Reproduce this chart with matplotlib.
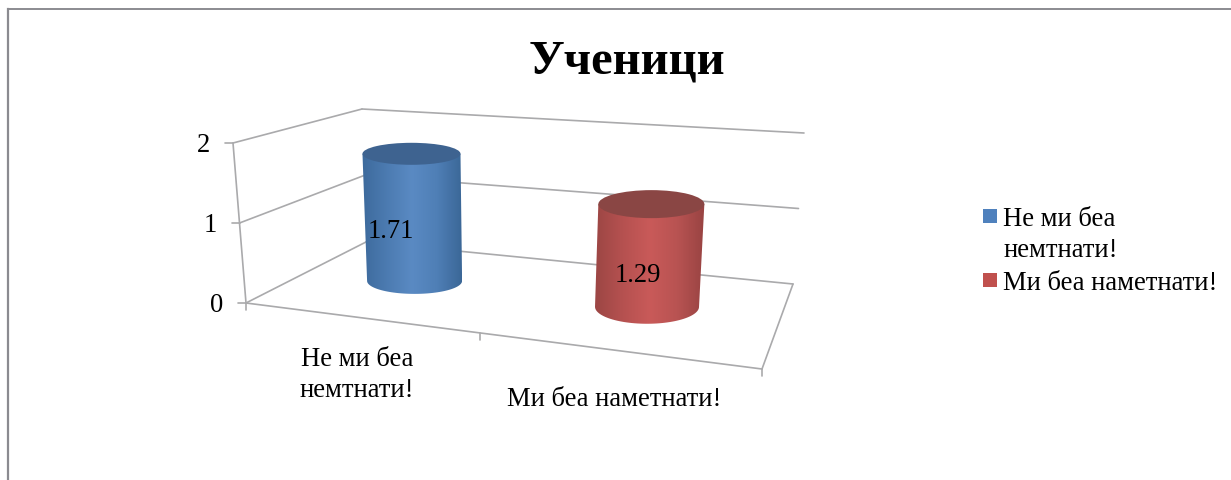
import numpy as np
import matplotlib
matplotlib.use("Agg")
import matplotlib.pyplot as plt
from matplotlib.patches import Ellipse, Polygon, Rectangle
from matplotlib.colors import LinearSegmentedColormap

titulo = "Ученици"
categorias = ["Не ми беа\nнемтнати!", "Ми беа наметнати!"]
valores = [1.71, 1.29]
rotulos_valor = ["1.71", "1.29"]
ticks_y = [0, 1, 2]

plt.rcParams["font.family"] = ["Liberation Serif", "DejaVu Serif"]

COR_GRADE = "#aaaaac"
CORES_LEGENDA = ["#4f81bd", "#c0504d"]
CORES_TOPO = ["#3e6390", "#8a4644"]
GRADIENTES = [["#3d6a9c", "#4c7bb1", "#5a8ac3", "#4f7fb6", "#3b6797"],
              ["#9c4644", "#b55150", "#c95a59", "#b85352", "#984342"]]
# raios dos cilindros em pixels: (topo x, topo y, base x, base y)
RAIOS = [(49, 11, 47.5, 13), (53, 14, 52, 17)]
PROF_BASE = 0.5
PROF_TOPO = 0.47
FONTE = 19.2


def homografia(destino):
    origem = [(0, 0), (2, 0), (2, 1), (0, 1)]
    A, b = [], []
    for (u, v), (x, y) in zip(origem, destino):
        A.append([u, v, 1, 0, 0, 0, -u * x, -v * x])
        A.append([0, 0, 0, u, v, 1, -u * y, -v * y])
        b += [x, y]
    h = np.linalg.solve(np.array(A, float), np.array(b, float))
    return np.append(h, 1).reshape(3, 3)


# cantos da caixa 3D na imagem (frente esq, frente dir, fundo dir, fundo esq)
H_BASE = homografia([(246, 303), (762, 369), (793, 284), (366, 242)])
H_TOPO = homografia([(233, 143), (770, 178), (804, 133), (362, 109)])


def proj(u, d, z):
    p = np.array([u, d, 1.0])
    a = H_BASE @ p
    b = H_TOPO @ p
    a = a[:2] / a[2]
    b = b[:2] / b[2]
    return a + (b - a) * z / ticks_y[-1]


def linha(ax, p0, p1, lw=1.2):
    ax.plot([p0[0], p1[0]], [p0[1], p1[1]], color=COR_GRADE, lw=lw, zorder=1,
            solid_capstyle="round")


def cilindro(ax, u, valor, raios, gradiente, cor_topo):
    rx_t, ry_t, rx_b, ry_b = raios
    cx_b, cy_b = proj(u, PROF_BASE, 0)
    cx_t, cy_t = proj(u, PROF_TOPO, valor)
    t = np.linspace(0, np.pi, 60)
    contorno = [(cx_t - rx_t, cy_t), (cx_t + rx_t, cy_t)]
    contorno += [(cx_b + rx_b * np.cos(a), cy_b + ry_b * np.sin(a)) for a in t]
    corpo = Polygon(contorno, closed=True, transform=ax.transData, facecolor="none", edgecolor="none")
    ax.add_patch(corpo)
    cmap = LinearSegmentedColormap.from_list("c", gradiente)
    im = ax.imshow(np.linspace(0, 1, 256).reshape(1, -1), cmap=cmap, aspect="auto", zorder=2,
                   extent=(min(cx_t - rx_t, cx_b - rx_b), max(cx_t + rx_t, cx_b + rx_b),
                           cy_b + ry_b, cy_t - ry_t))
    im.set_clip_path(corpo)
    ax.add_patch(Ellipse((cx_t, cy_t), 2 * rx_t, 2 * ry_t, facecolor=cor_topo, edgecolor="none", zorder=3))


fig = plt.figure(figsize=(12.31, 4.8), dpi=100)
ax = fig.add_axes([0, 0, 1, 1])

# moldura do grafico, so topo e esquerda aparecem
ax.plot([8, 8], [480, 8.5], color="#8b8b90", lw=1.6, zorder=1)
ax.plot([8, 1231], [8.5, 8.5], color="#8b8b90", lw=1.4, zorder=1)

for z in ticks_y:
    linha(ax, proj(0, 0, z), proj(0, 1, z))
    linha(ax, proj(0, 1, z), proj(2, 1, z))
    x0, y0 = proj(0, 0, z)
    linha(ax, (x0 - 8, y0), (x0, y0))
    ax.text(x0 - 23, y0 + 2, str(z), fontsize=FONTE, ha="right", va="center", color="black")
linha(ax, proj(0, 0, 0), proj(0, 0, 2))
linha(ax, proj(0, 0, 0), proj(2, 0, 0))
linha(ax, proj(2, 0, 0), proj(2, 1, 0))
for u in range(len(categorias) + 1):
    x0, y0 = proj(u, 0, 0)
    linha(ax, (x0, y0), (x0, y0 + 7))

for i, v in enumerate(valores):
    cilindro(ax, i + 0.5, v, RAIOS[i], GRADIENTES[i], CORES_TOPO[i])

ax.text(391, 232, rotulos_valor[0], fontsize=FONTE, ha="center", va="center", zorder=5)
ax.text(638, 275, rotulos_valor[1], fontsize=FONTE, ha="center", va="center", zorder=5)

ax.text(357, 375, categorias[0], fontsize=FONTE, ha="center", va="center", linespacing=1.35)
ax.text(614, 399, categorias[1], fontsize=FONTE, ha="center", va="center")

ax.text(627, 61, titulo, fontsize=35, fontweight="bold", ha="center", va="center")

# legenda
ax.add_patch(Rectangle((983, 209), 14, 14, facecolor=CORES_LEGENDA[0], edgecolor="none"))
ax.add_patch(Rectangle((983, 273), 14, 14, facecolor=CORES_LEGENDA[1], edgecolor="none"))
ax.text(1003, 235, categorias[0], fontsize=FONTE, ha="left", va="center", linespacing=1.35)
ax.text(1003, 284, categorias[1], fontsize=FONTE, ha="left", va="center")

ax.set_xlim(0, 1231)
ax.set_ylim(480, 0)
ax.axis("off")

plt.savefig("out.png", dpi=100, facecolor="white")
